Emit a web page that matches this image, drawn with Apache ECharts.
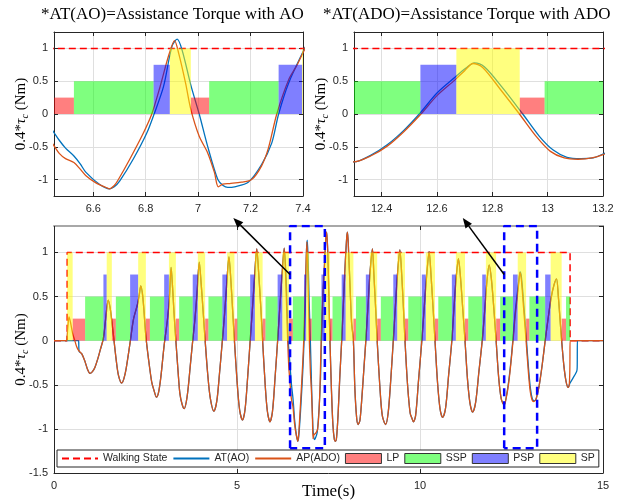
<!DOCTYPE html>
<html>
<head>
<meta charset="utf-8">
<title>Assistance Torque</title>
<script src="https://cdn.jsdelivr.net/npm/echarts@6/dist/echarts.min.js"></script>
<style>
  html, body { margin: 0; padding: 0; background: #fff; }
  #main { width: 631px; height: 502px; }
</style>
</head>
<body>
<div id="main"></div>
<script>
// ---- 数据 ----
// 步行状态（阶跃）
const walkTime = [0, 0.36, 0.36, 14.10, 14.10, 15];
const walkState = [0, 0, 1, 1, 0, 0];

// 两个放大窗口 (s)
const windowA = [6.45, 7.4];
const windowB = [12.3, 13.2];

// 步态相位 [开始, 结束]
const lpSpans = [[0.51, 0.85], [1.58, 1.69], [2.51, 2.62], [3.33, 3.42], [4.13, 4.22], [4.93, 5.01], [5.70, 5.78],
  [6.42, 6.526], [6.972, 7.042], [7.54, 7.61], [8.18, 8.25], [8.83, 8.93], [9.59, 9.68], [10.41, 10.50],
  [11.23, 11.32], [12.08, 12.19], [12.899, 12.989], [13.87, 13.99]];
const sspSpans = [[0.85, 1.35], [1.69, 2.08], [2.62, 3.01], [3.42, 3.79], [4.22, 4.60], [5.01, 5.36], [5.78, 6.11],
  [6.526, 6.83], [7.042, 7.307], [7.61, 7.86], [8.25, 8.52], [8.93, 9.27], [9.68, 10.05], [10.50, 10.87],
  [11.32, 11.70], [12.19, 12.54], [12.989, 13.42], [13.99, 14.10]];
const pspSpans = [[1.35, 1.44], [2.08, 2.30], [3.01, 3.14], [3.79, 3.93], [4.60, 4.73], [5.36, 5.49], [6.11, 6.24],
  [6.83, 6.892], [7.307, 7.397], [7.86, 7.97], [8.52, 8.63], [9.27, 9.38], [10.05, 10.16], [10.87, 10.98],
  [11.70, 11.80], [12.54, 12.67], [13.42, 13.57]];
const spSpans = [[0.36, 0.51], [1.44, 1.58], [2.30, 2.51], [3.14, 3.33], [3.93, 4.13], [4.73, 4.93], [5.49, 5.70],
  [6.24, 6.42], [6.892, 6.972], [7.397, 7.54], [7.97, 8.18], [8.63, 8.83], [9.38, 9.59], [10.16, 10.41],
  [10.98, 11.23], [11.80, 12.08], [12.67, 12.899], [13.57, 13.87]];
const phaseNames = ['LP', 'SSP', 'PSP', 'SP'];
const phaseLevels = [0.25, 0.5, 0.75, 1];

// 力矩曲线 [t, 0.4*tau]
const adoHead = [[0, 0], [0.35, 0], [0.355, 0], [0.38, 0.16], [0.41, 0.27], [0.45, 0.21], [0.51, 0.08], [0.57, 0],
  [0.62, -0.07], [0.67, -0.11]];
const aoHead = [[0, 0], [0.675, 0], [0.68, 0], [0.685, -0.12]];
const sharedEarly = [[0.76, -0.15], [0.85, -0.24], [0.92, -0.33], [0.98, -0.37], [1.05, -0.35], [1.12, -0.30],
  [1.20, -0.2], [1.26, -0.11], [1.35, 0.03], [1.42, 0.28], [1.48, 0.46],
  [1.53, 0.38], [1.58, 0.22], [1.64, 0], [1.70, -0.22], [1.76, -0.39], [1.85, -0.48], [1.91, -0.43], [1.97, -0.32],
  [2.08, -0.02], [2.17, 0.24], [2.28, 0.41], [2.33, 0.52], [2.37, 0.62],
  [2.43, 0.48], [2.51, 0.05], [2.58, -0.2], [2.67, -0.47], [2.73, -0.56], [2.80, -0.64], [2.86, -0.58], [2.92, -0.41],
  [3.01, -0.05], [3.10, 0.24], [3.15, 0.46], [3.20, 0.83],
  [3.24, 0.6], [3.28, 0.31], [3.33, 0], [3.39, -0.35], [3.44, -0.60], [3.50, -0.72], [3.56, -0.77], [3.62, -0.68],
  [3.67, -0.52], [3.72, -0.3], [3.79, 0], [3.85, 0.24], [3.91, 0.55], [3.97, 0.89],
  [4.02, 0.65], [4.08, 0.3], [4.13, 0], [4.20, -0.38], [4.27, -0.65], [4.37, -0.80], [4.45, -0.68], [4.52, -0.38],
  [4.60, 0], [4.66, 0.3], [4.72, 0.65], [4.78, 0.95],
  [4.83, 0.7], [4.88, 0.35], [4.93, 0], [5.00, -0.45], [5.07, -0.78], [5.15, -0.90], [5.22, -0.78], [5.29, -0.42],
  [5.36, 0], [5.42, 0.35], [5.48, 0.72], [5.54, 1.04],
  [5.59, 0.78], [5.65, 0.38], [5.70, 0], [5.77, -0.5], [5.83, -0.8], [5.90, -0.92], [5.97, -0.8], [6.04, -0.42],
  [6.11, 0], [6.17, 0.38], [6.23, 0.74], [6.29, 1.05]];
const adoWinA = [[6.33, 0.72], [6.36, 0.32], [6.385, 0], [6.415, -0.3], [6.446, -0.46], [6.47, -0.60], [6.494, -0.68],
  [6.526, -0.74], [6.55, -0.84], [6.572, -0.94], [6.61, -1.05], [6.649, -1.12], [6.662, -1.14], [6.68, -1.09],
  [6.694, -1.01], [6.739, -0.69], [6.791, -0.29], [6.823, 0], [6.855, 0.42], [6.888, 0.90], [6.91, 1.12],
  [6.926, 0.92], [6.952, 0.47], [6.972, 0.07], [7.004, -0.34], [7.036, -0.59], [7.062, -0.89], [7.077, -1.11],
  [7.094, -1.07], [7.12, -1.06], [7.165, -1.04], [7.204, -1.0], [7.242, -0.79], [7.268, -0.52], [7.30, 0],
  [7.345, 0.52], [7.378, 0.75], [7.41, 1.02]];
const aoWinA = [[6.34, 0.72], [6.37, 0.35], [6.40, 0], [6.425, -0.15], [6.446, -0.26], [6.47, -0.40], [6.494, -0.52],
  [6.526, -0.64], [6.55, -0.76], [6.572, -0.89], [6.623, -1.07], [6.662, -1.14], [6.68, -1.11], [6.701, -1.02],
  [6.752, -0.69], [6.804, -0.29], [6.832, 0], [6.868, 0.42], [6.90, 1.03], [6.92, 1.14], [6.939, 0.97],
  [6.972, 0.44], [7.004, 0], [7.036, -0.49], [7.075, -1.0], [7.095, -1.09], [7.113, -1.12], [7.139, -1.11],
  [7.191, -1.04], [7.242, -0.77], [7.281, -0.44], [7.307, 0], [7.345, 0.47], [7.41, 1.03]];
const sharedMid = [[7.43, 1.18], [7.45, 1.23], [7.48, 1.0], [7.51, 0.5], [7.54, 0], [7.58, -0.55], [7.62, -0.95],
  [7.66, -1.12], [7.69, -1.14], [7.72, -1.10], [7.76, -0.85], [7.81, -0.4], [7.86, 0], [7.91, 0.45], [7.96, 0.9],
  [8.0, 1.18], [8.02, 1.23],
  [8.05, 1.0], [8.09, 0.6], [8.13, 0.21], [8.18, 0], [8.22, -0.54], [8.27, -0.88], [8.31, -0.95], [8.36, -0.9],
  [8.42, -0.6], [8.47, -0.3], [8.52, 0], [8.58, 0.4], [8.64, 0.8], [8.70, 1.04],
  [8.74, 0.75], [8.79, 0.35], [8.83, 0], [8.90, -0.5], [8.97, -0.85], [9.06, -0.95], [9.13, -0.82], [9.20, -0.45],
  [9.27, 0], [9.33, 0.4], [9.39, 0.78], [9.45, 1.03],
  [9.50, 0.75], [9.55, 0.35], [9.59, 0], [9.66, -0.5], [9.73, -0.82], [9.78, -0.88], [9.82, -0.92], [9.88, -0.85],
  [9.96, -0.45], [10.05, 0], [10.12, 0.4], [10.19, 0.78], [10.25, 1.01],
  [10.30, 0.75], [10.36, 0.35], [10.41, 0], [10.48, -0.48], [10.55, -0.78], [10.62, -0.87], [10.70, -0.76],
  [10.78, -0.4], [10.87, 0], [10.93, 0.38], [10.99, 0.72], [11.05, 0.93],
  [11.10, 0.75], [11.17, 0.35], [11.23, 0], [11.30, -0.45], [11.37, -0.72], [11.44, -0.81], [11.52, -0.7],
  [11.61, -0.35], [11.70, 0], [11.77, 0.35], [11.83, 0.68], [11.89, 0.86],
  [11.95, 0.7], [12.02, 0.35], [12.08, 0], [12.15, -0.42], [12.22, -0.66]];
const adoWinB = [[12.30, -0.73], [12.36, -0.64], [12.42, -0.49], [12.48, -0.27], [12.542, 0], [12.60, 0.28],
  [12.665, 0.52], [12.70, 0.66], [12.73, 0.77], [12.765, 0.71], [12.83, 0.37], [12.898, 0], [12.96, -0.35],
  [13.01, -0.57], [13.06, -0.67], [13.11, -0.69], [13.16, -0.67], [13.20, -0.62]];
const aoWinB = [[12.30, -0.73], [12.36, -0.63], [12.42, -0.47], [12.48, -0.25], [12.536, 0], [12.60, 0.32],
  [12.665, 0.56], [12.705, 0.70], [12.735, 0.78], [12.771, 0.72], [12.835, 0.41], [12.91, 0], [12.97, -0.34],
  [13.02, -0.55], [13.07, -0.66], [13.12, -0.68], [13.165, -0.67], [13.20, -0.61]];
const sharedLate = [[13.26, -0.5], [13.34, -0.27], [13.42, 0], [13.50, 0.25], [13.58, 0.48], [13.66, 0.63],
  [13.73, 0.70], [13.78, 0.5], [13.83, 0.22], [13.87, 0], [13.93, -0.28], [13.99, -0.46], [14.05, -0.53]];
const adoTail = [[14.08, -0.49], [14.095, -0.3], [14.10, 0], [14.11, 0], [15, 0]];
const aoTail = [[14.08, -0.5], [14.10, -0.48], [14.28, -0.35], [14.295, -0.3], [14.30, 0], [14.31, 0], [15, 0]];

// 放大框（主图中的蓝色虚线框）
const boxBottom = -1.22;
const boxTop = 1.3;

// ---- 组装 ----
const aoData = aoHead.concat(sharedEarly, aoWinA, sharedMid, aoWinB, sharedLate, aoTail);
const adoData = adoHead.concat(sharedEarly, adoWinA, sharedMid, adoWinB, sharedLate, adoTail);
const walkData = walkTime.map((t, i) => [t, walkState[i]]);
const phaseData = [lpSpans, sspSpans, pspSpans, spSpans].map((spans, k) =>
  spans.map(s => [s[0], s[1], phaseLevels[k]]));
const phaseColors = ['rgba(255,0,0,0.5)', 'rgba(0,255,0,0.5)', 'rgba(0,0,255,0.5)', 'rgba(255,255,0,0.5)'];

const axisColor = '#262626';
const gridColor = '#dfdfdf';
const serif = 'Liberation Serif';
const sans = 'Liberation Sans';

const grids = [
  { left: 54, top: 32, width: 249, height: 164 },
  { left: 354, top: 32, width: 249, height: 164 },
  { left: 54, top: 226, width: 549, height: 247 }
];

const yName = '{n|0.4*}{t|τ}{s|c}{n| (Nm)}';
const yNameStyle = {
  color: '#000',
  fontFamily: serif,
  fontSize: 15,
  rich: {
    n: { fontFamily: serif, fontSize: 15, lineHeight: 18, color: '#000' },
    t: { fontFamily: serif, fontSize: 15, fontStyle: 'italic', lineHeight: 18, color: '#000' },
    s: { fontFamily: serif, fontSize: 10, fontStyle: 'italic', lineHeight: 9, verticalAlign: 'bottom', color: '#000' }
  }
};

// 每个网格 4 根轴：下/上，左/右
function makeXAxes(g, range, interval, withName) {
  const base = { type: 'value', gridIndex: g, min: range[0], max: range[1] };
  if (interval) base.interval = interval;
  const bottom = Object.assign({}, base, {
    position: 'bottom',
    axisLine: { show: true, onZero: false, lineStyle: { color: axisColor, width: 1 } },
    axisTick: { show: true, inside: true, length: 4, lineStyle: { color: axisColor } },
    axisLabel: { show: true, color: axisColor, fontFamily: sans, fontSize: 11, margin: 7,
      showMinLabel: interval ? true : false, showMaxLabel: true },
    splitLine: { show: true, lineStyle: { color: gridColor, width: 1 } }
  });
  if (withName) {
    bottom.name = 'Time(s)';
    bottom.nameLocation = 'middle';
    bottom.nameGap = 10;
    bottom.nameMoveOverlap = false;
    bottom.nameTextStyle = { fontFamily: serif, fontSize: 17, color: '#000' };
  }
  const top = Object.assign({}, base, {
    position: 'top',
    axisLine: { show: true, onZero: false, lineStyle: { color: g === 2 ? '#a8a8a8' : axisColor, width: g === 2 ? 2 : 1 } },
    axisTick: { show: true, inside: true, length: 4, lineStyle: { color: axisColor } },
    axisLabel: { show: false },
    splitLine: { show: false }
  });
  return [bottom, top];
}

function makeYAxes(g, range, interval) {
  const base = { type: 'value', gridIndex: g, min: range[0], max: range[1] };
  if (interval) base.interval = interval;
  const left = Object.assign({}, base, {
    position: 'left',
    name: yName,
    nameLocation: 'middle',
    nameRotate: 90,
    nameGap: 24,
    nameMoveOverlap: false,
    nameTextStyle: yNameStyle,
    axisLine: { show: true, onZero: false, lineStyle: { color: axisColor, width: 1 } },
    axisTick: { show: true, inside: true, length: 4, lineStyle: { color: axisColor } },
    axisLabel: { show: true, color: axisColor, fontFamily: sans, fontSize: 11, margin: 6,
      showMinLabel: interval ? true : false, showMaxLabel: false },
    splitLine: { show: true, lineStyle: { color: gridColor, width: 1 } }
  });
  const right = Object.assign({}, base, {
    position: 'right',
    axisLine: { show: true, onZero: false, lineStyle: { color: axisColor, width: 1 } },
    axisTick: { show: true, inside: true, length: 4, lineStyle: { color: axisColor } },
    axisLabel: { show: false },
    splitLine: { show: false }
  });
  return [left, right];
}

// 相位矩形
function renderPhase(params, api) {
  const p0 = api.coord([api.value(0), 0]);
  const p1 = api.coord([api.value(1), api.value(2)]);
  const shape = echarts.graphic.clipRectByRect({
    x: p0[0], y: p1[1], width: p1[0] - p0[0], height: p0[1] - p1[1]
  }, {
    x: params.coordSys.x, y: params.coordSys.y,
    width: params.coordSys.width, height: params.coordSys.height
  });
  return shape && { type: 'rect', shape: shape, style: api.style({ stroke: null }) };
}

function gridSeries(g) {
  const ax = { xAxisIndex: 2 * g, yAxisIndex: 2 * g };
  const list = [
    Object.assign({
      name: 'Walking State', type: 'line', data: walkData, symbol: 'none', z: 2,
      lineStyle: { color: '#ff0000', width: 1.5, type: [7, 4] }, itemStyle: { color: '#ff0000' }
    }, ax),
    Object.assign({
      name: 'AT(AO)', type: 'line', data: aoData, symbol: 'none', smooth: 0.3, z: 2,
      lineStyle: { color: '#0072BD', width: 1.3 }, itemStyle: { color: '#0072BD' }
    }, ax),
    Object.assign({
      name: 'AP(ADO)', type: 'line', data: adoData, symbol: 'none', smooth: 0.3, z: 2,
      lineStyle: { color: '#D95319', width: 1.3 }, itemStyle: { color: '#D95319' }
    }, ax)
  ];
  phaseNames.forEach((name, k) => {
    list.push(Object.assign({
      name: name, type: 'custom', renderItem: renderPhase, data: phaseData[k], z: 3,
      encode: { x: [0, 1], y: 2 }, itemStyle: { color: phaseColors[k] }
    }, ax));
  });
  return list;
}

const boxSeries = [windowA, windowB].map((w, i) => ({
  name: 'zoomBox' + i, type: 'line', xAxisIndex: 4, yAxisIndex: 4, symbol: 'none', z: 4,
  data: [[w[0], boxBottom], [w[0], boxTop], [w[1], boxTop], [w[1], boxBottom], [w[0], boxBottom]],
  lineStyle: { color: '#0000ff', width: 2.5, type: [8, 5] }
}));

const chart = echarts.init(document.getElementById('main'), null, { renderer: 'canvas' });

const noSymbol = { opacity: 0, color: 'transparent', borderWidth: 0 };
const rectIcon = { borderColor: '#333', borderWidth: 1 };

const option = {
  animation: false,
  backgroundColor: '#fff',
  textStyle: { fontFamily: sans },
  title: [
    { text: '*AT(AO)=Assistance Torque with AO', left: 41, top: 6, padding: 0,
      textStyle: { fontFamily: serif, fontSize: 17, fontWeight: 'normal', color: '#000' } },
    { text: '*AT(ADO)=Assistance Torque with ADO', left: 323, top: 6, padding: 0,
      textStyle: { fontFamily: serif, fontSize: 17, fontWeight: 'normal', color: '#000' } }
  ],
  grid: grids.map(g => Object.assign({ containLabel: false, outerBoundsMode: 'none' }, g)),
  xAxis: [].concat(
    makeXAxes(0, windowA, null, false),
    makeXAxes(1, windowB, null, false),
    makeXAxes(2, [0, 15], 5, true)
  ),
  yAxis: [].concat(
    makeYAxes(0, [-1.25, 1.25], null),
    makeYAxes(1, [-1.25, 1.25], null),
    makeYAxes(2, [-1.5, 1.3], 0.5)
  ),
  legend: {
    data: [
      { name: 'Walking State', itemStyle: noSymbol },
      { name: 'AT(AO)', itemStyle: noSymbol },
      { name: 'AP(ADO)', itemStyle: noSymbol },
      { name: 'LP', icon: 'rect', itemStyle: rectIcon },
      { name: 'SSP', icon: 'rect', itemStyle: rectIcon },
      { name: 'PSP', icon: 'rect', itemStyle: rectIcon },
      { name: 'SP', icon: 'rect', itemStyle: rectIcon }
    ],
    left: 57, top: 450, padding: [3, 4], itemGap: 5, itemWidth: 36, itemHeight: 10,
    borderColor: axisColor, borderWidth: 1, backgroundColor: '#fff',
    selectedMode: false, z: 10,
    textStyle: { fontFamily: sans, fontSize: 10.5, color: axisColor }
  },
  series: [].concat(gridSeries(0), gridSeries(1), gridSeries(2), boxSeries)
};

chart.setOption(option);

// 箭头：从主图放大框指向上方子图
const arrowTails = [[windowA[0], 0.75], [windowB[0], 0.75]];
const arrowHeads = [[4.9, 1.39], [11.17, 1.39]];

function arrowGraphic(from, to) {
  const p0 = chart.convertToPixel({ xAxisIndex: 4, yAxisIndex: 4 }, from);
  const p1 = chart.convertToPixel({ xAxisIndex: 4, yAxisIndex: 4 }, to);
  const dx = p1[0] - p0[0], dy = p1[1] - p0[1];
  const len = Math.sqrt(dx * dx + dy * dy);
  const ux = dx / len, uy = dy / len;
  const headLen = 10, headHalf = 4;
  const bx = p1[0] - ux * headLen, by = p1[1] - uy * headLen;
  return [
    { type: 'line', z: 100, shape: { x1: p0[0], y1: p0[1], x2: bx, y2: by },
      style: { stroke: '#000', lineWidth: 1.5 } },
    { type: 'polygon', z: 100,
      shape: { points: [[p1[0], p1[1]], [bx - uy * headHalf, by + ux * headHalf], [bx + uy * headHalf, by - ux * headHalf]] },
      style: { fill: '#000' } }
  ];
}

chart.setOption({
  graphic: [].concat(arrowGraphic(arrowTails[0], arrowHeads[0]), arrowGraphic(arrowTails[1], arrowHeads[1]))
});
</script>
</body>
</html>
